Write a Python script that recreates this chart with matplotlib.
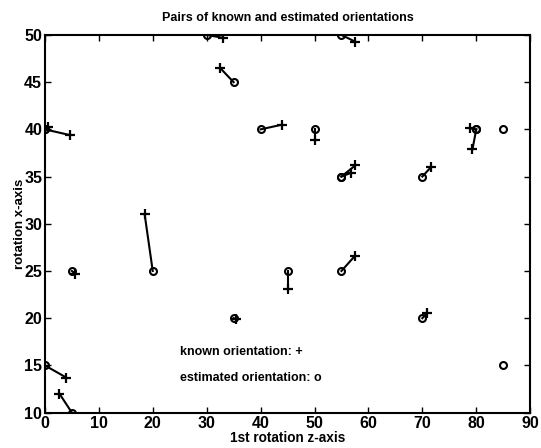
import matplotlib
matplotlib.use("Agg")
import matplotlib.pyplot as plt
import numpy as np

plt.rcParams['font.family'] = ['Liberation Sans', 'DejaVu Sans']

# estimated orientations (o) paired with known orientations (+)
est_x = [30, 55, 35, 0, 0, 40, 50, 80, 80, 55, 55, 70, 5, 20, 45, 55, 35, 70, 0, 5]
est_y = [50, 50, 45, 40, 40, 40, 40, 40, 40, 35, 35, 35, 25, 25, 25, 25, 20, 20, 15, 10]
known_x = [33, 57.5, 32.5, 4.6, 0.6, 44, 50, 79.3, 78.9, 56.8, 57.6, 71.6, 5.6, 18.5, 45, 57.5, 35.4, 70.8, 4, 2.7]
known_y = [49.7, 49.3, 46.5, 39.4, 40.3, 40.5, 38.9, 37.9, 40.1, 35.4, 36.2, 36, 24.7, 31, 23.1, 26.6, 19.9, 20.5, 13.7, 12]
# estimated orientations without a known partner
lone_x = [85, 85]
lone_y = [40, 15]

fig = plt.figure(figsize=(5.41, 4.48), dpi=100)
ax = fig.add_axes([0.083, 0.079, 0.897, 0.843])

for ex, ey, kx, ky in zip(est_x, est_y, known_x, known_y):
    ax.plot([ex, kx], [ey, ky], color='black', lw=1.5)
ax.plot(known_x, known_y, '+', color='black', ms=6.5, mew=1.6)
ax.plot(est_x, est_y, 'o', color='black', mfc='none', ms=5, mew=1.5)
ax.plot(lone_x, lone_y, 'o', color='black', mfc='none', ms=5, mew=1.5)

ax.text(25, 16.4, 'known orientation: +', fontsize=9, fontweight='bold', va='center')
ax.text(25, 13.7, 'estimated orientation: o', fontsize=9, fontweight='bold', va='center')

ax.set_xlim(0, 90)
ax.set_ylim(10, 50)
ax.set_xticks(np.arange(0, 91, 10))
ax.set_yticks(np.arange(10, 51, 5))
ax.tick_params(direction='in', top=True, right=True, length=4, width=1, labelsize=11.5)
ax.tick_params(axis='x', pad=2.5)
ax.tick_params(axis='y', pad=2)
for lab in ax.get_xticklabels() + ax.get_yticklabels():
    lab.set_fontweight('bold')
for s in ax.spines.values():
    s.set_linewidth(1.5)

ax.set_title('Pairs of known and estimated orientations', fontsize=9, fontweight='bold', pad=10)
ax.set_xlabel('1st rotation z-axis', fontsize=9.8, fontweight='bold', labelpad=0)
ax.set_ylabel('rotation x-axis', fontsize=9.5, fontweight='bold', labelpad=-1)

fig.savefig('out.png', dpi=100)
